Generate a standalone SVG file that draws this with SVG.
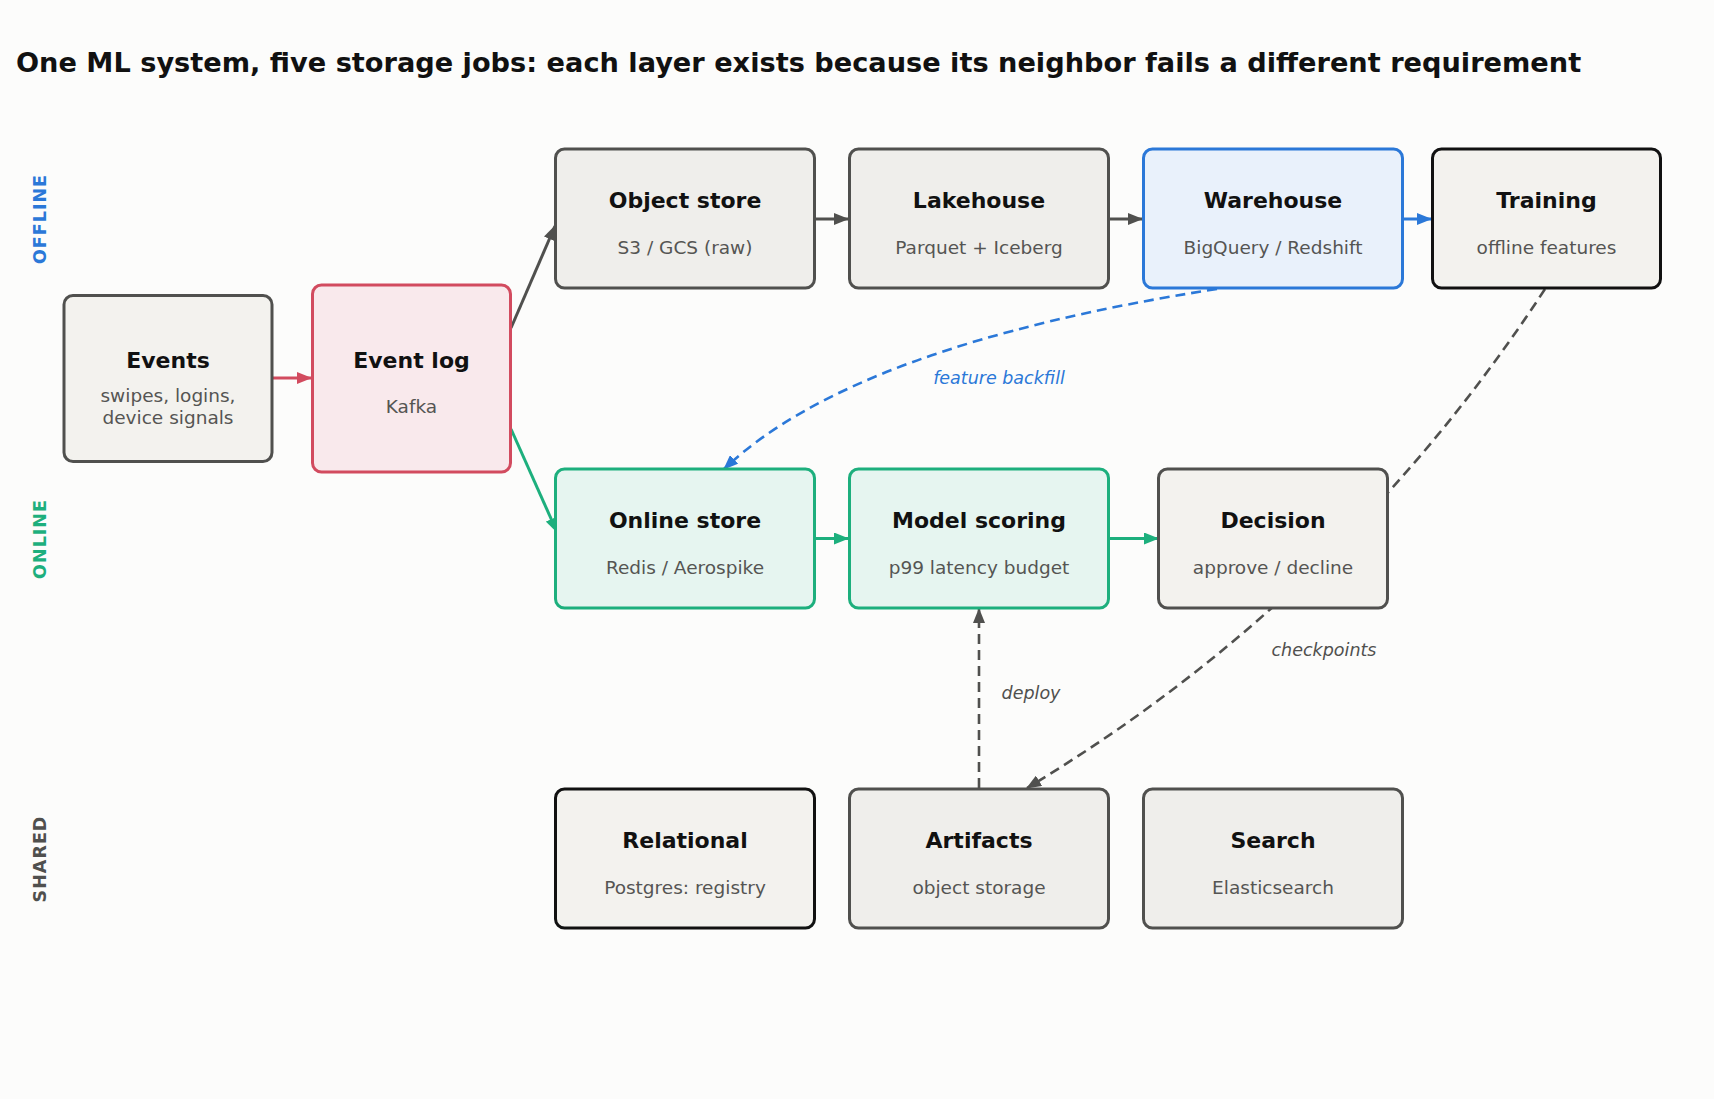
<svg xmlns="http://www.w3.org/2000/svg" width="1714" height="1099" viewBox="0 0 1714 1099">
<style>
.bg{fill:#fcfcfb}
.title{font-family:"DejaVu Sans",sans-serif;font-weight:bold;font-size:27.2px;fill:#111}
.lane{font-family:"DejaVu Sans",sans-serif;font-weight:bold;font-size:17.5px;letter-spacing:1px;text-anchor:middle}
.nt{font-family:"DejaVu Sans",sans-serif;font-weight:bold;font-size:22px;fill:#111;text-anchor:middle}
.ns{font-family:"DejaVu Sans",sans-serif;font-size:18.5px;fill:#555553;text-anchor:middle}
.el{font-family:"DejaVu Sans",sans-serif;font-style:italic;font-size:17.5px;text-anchor:middle}
.box{stroke-width:3}
.gray{fill:#efeeeb;stroke:#50504e}
.light{fill:#f3f2ee;stroke:#50504e}
.dark{fill:#f3f2ee;stroke:#111}
.red{fill:#f9e9ec;stroke:#d24b5f}
.blue{fill:#e9f1fb;stroke:#2b78d8}
.green{fill:#e6f5f0;stroke:#1daf7d}
.c{fill:none;stroke-width:3}
.d{fill:none;stroke-width:2.6;stroke-dasharray:10 6}
</style>
<defs>
<marker id="ag" viewBox="0 0 15 12" refX="14" refY="6" markerWidth="15" markerHeight="12" markerUnits="userSpaceOnUse" orient="auto"><path d="M0,0 L15,6 L0,12 z" fill="#50504e"/></marker>
<marker id="ar" viewBox="0 0 15 12" refX="14" refY="6" markerWidth="15" markerHeight="12" markerUnits="userSpaceOnUse" orient="auto"><path d="M0,0 L15,6 L0,12 z" fill="#d24b5f"/></marker>
<marker id="ab" viewBox="0 0 15 12" refX="14" refY="6" markerWidth="15" markerHeight="12" markerUnits="userSpaceOnUse" orient="auto"><path d="M0,0 L15,6 L0,12 z" fill="#2b78d8"/></marker>
<marker id="an" viewBox="0 0 15 12" refX="14" refY="6" markerWidth="15" markerHeight="12" markerUnits="userSpaceOnUse" orient="auto"><path d="M0,0 L15,6 L0,12 z" fill="#1daf7d"/></marker>
</defs>
<rect class="bg" x="0" y="0" width="1714" height="1099"/>
<text class="title" x="16" y="72">One ML system, five storage jobs: each layer exists because its neighbor fails a different requirement</text>

<text class="lane" fill="#2b78d8" transform="translate(46,219) rotate(-90)">OFFLINE</text>
<text class="lane" fill="#1daf7d" transform="translate(46,539) rotate(-90)">ONLINE</text>
<text class="lane" fill="#50504e" transform="translate(46,859) rotate(-90)">SHARED</text>

<g id="connectors">
<line class="c" stroke="#d24b5f" x1="272" y1="378" x2="311" y2="378" marker-end="url(#ar)"/>
<line class="c" stroke="#50504e" x1="511" y1="328" x2="555" y2="226" marker-end="url(#ag)"/>
<line class="c" stroke="#1daf7d" x1="511" y1="429" x2="557" y2="532" marker-end="url(#an)"/>
<line class="c" stroke="#50504e" x1="814" y1="219" x2="848" y2="219" marker-end="url(#ag)"/>
<line class="c" stroke="#50504e" x1="1108" y1="219" x2="1142" y2="219" marker-end="url(#ag)"/>
<line class="c" stroke="#2b78d8" x1="1402" y1="219" x2="1431" y2="219" marker-end="url(#ab)"/>
<line class="c" stroke="#1daf7d" x1="814" y1="538.5" x2="848" y2="538.5" marker-end="url(#an)"/>
<line class="c" stroke="#1daf7d" x1="1108" y1="538.5" x2="1158" y2="538.5" marker-end="url(#an)"/>
<path class="d" stroke="#2b78d8" d="M1217,289 Q855,345 724,469" marker-end="url(#ab)"/>
<path class="d" stroke="#50504e" d="M1545,289 Q1343,598 1027,788" marker-end="url(#ag)"/>
<line class="d" stroke="#50504e" x1="979" y1="788" x2="979" y2="609" marker-end="url(#ag)"/>
<text class="el" fill="#2b78d8" x="999" y="384">feature backfill</text>
<text class="el" fill="#50504e" x="1031" y="699">deploy</text>
<text class="el" fill="#50504e" x="1324" y="656">checkpoints</text>
</g>

<g id="events"><rect class="box light" x="64" y="295.5" width="208" height="166" rx="9"/>
<text class="nt" x="168" y="368">Events</text><text class="ns" x="168" y="402">swipes, logins,</text><text class="ns" x="168" y="424">device signals</text></g>
<g id="eventlog"><rect class="box red" x="312.5" y="285" width="198" height="187" rx="9"/>
<text class="nt" x="411.5" y="368">Event log</text><text class="ns" x="411.5" y="413">Kafka</text></g>

<g id="objectstore"><rect class="box gray" x="555.5" y="149" width="259" height="139" rx="9"/>
<text class="nt" x="685" y="208">Object store</text><text class="ns" x="685" y="254">S3 / GCS (raw)</text></g>
<g id="lakehouse"><rect class="box gray" x="849.5" y="149" width="259" height="139" rx="9"/>
<text class="nt" x="979" y="208">Lakehouse</text><text class="ns" x="979" y="254">Parquet + Iceberg</text></g>
<g id="warehouse"><rect class="box blue" x="1143.5" y="149" width="259" height="139" rx="9"/>
<text class="nt" x="1273" y="208">Warehouse</text><text class="ns" x="1273" y="254">BigQuery / Redshift</text></g>
<g id="training"><rect class="box dark" x="1432.5" y="149" width="228" height="139" rx="9"/>
<text class="nt" x="1546.5" y="208">Training</text><text class="ns" x="1546.5" y="254">offline features</text></g>

<g id="onlinestore"><rect class="box green" x="555.5" y="469" width="259" height="139" rx="9"/>
<text class="nt" x="685" y="528">Online store</text><text class="ns" x="685" y="574">Redis / Aerospike</text></g>
<g id="modelscoring"><rect class="box green" x="849.5" y="469" width="259" height="139" rx="9"/>
<text class="nt" x="979" y="528">Model scoring</text><text class="ns" x="979" y="574">p99 latency budget</text></g>
<g id="decision"><rect class="box light" x="1158.5" y="469" width="229" height="139" rx="9"/>
<text class="nt" x="1273" y="528">Decision</text><text class="ns" x="1273" y="574">approve / decline</text></g>

<g id="relational"><rect class="box dark" x="555.5" y="789" width="259" height="139" rx="9"/>
<text class="nt" x="685" y="848">Relational</text><text class="ns" x="685" y="894">Postgres: registry</text></g>
<g id="artifacts"><rect class="box gray" x="849.5" y="789" width="259" height="139" rx="9"/>
<text class="nt" x="979" y="848">Artifacts</text><text class="ns" x="979" y="894">object storage</text></g>
<g id="search"><rect class="box gray" x="1143.5" y="789" width="259" height="139" rx="9"/>
<text class="nt" x="1273" y="848">Search</text><text class="ns" x="1273" y="894">Elasticsearch</text></g>
</svg>
